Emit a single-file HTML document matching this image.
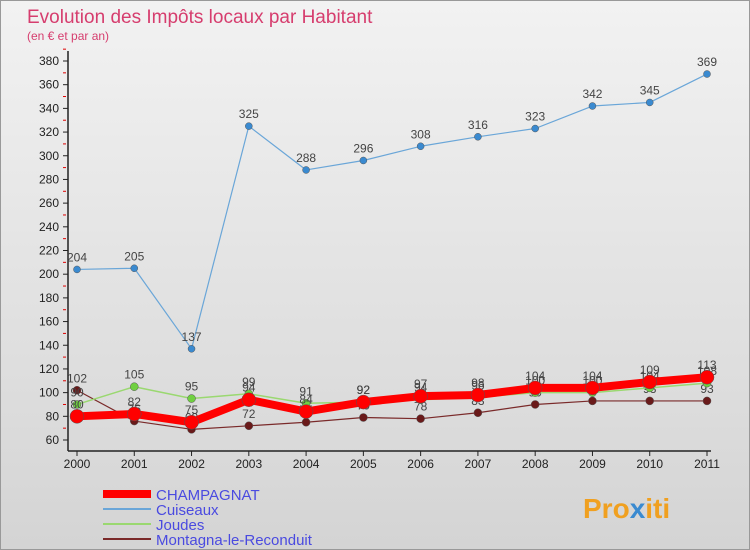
<!DOCTYPE html>
<html><head><meta charset="utf-8"><style>
body{margin:0}
#c{width:750px;height:550px;position:relative;font-family:"Liberation Sans",sans-serif;background:linear-gradient(#f2f2f2,#d4d4d4);border:1px solid #999;box-sizing:border-box;overflow:hidden}
text{font-family:"Liberation Sans",sans-serif}
</style></head><body>
<div id="c">
<svg id="s" width="750" height="550">
<text x="26" y="22" font-size="19" fill="#d63d6e">Evolution des Impôts locaux par Habitant</text>
<text x="26" y="39" font-size="12" fill="#d63d6e">(en € et par an)</text>
<g id="axes"></g><g id="series"></g><g id="legend"></g>
<text x="582" y="517" font-size="28" font-weight="bold" fill="#f0a020">Pro<tspan fill="#3a8ad0">x</tspan>iti</text>
</svg>
</div>
<script>
const years=["2000","2001","2002","2003","2004","2005","2006","2007","2008","2009","2010","2011"];
const yTicks=[60,80,100,120,140,160,180,200,220,240,260,280,300,320,340,360,380];
const champagnat=[80,82,75,94,84,92,97,98,104,104,109,113];
const cuiseaux=[204,205,137,325,288,296,308,316,323,342,345,369];
const joudes=[90,105,95,99,91,92,94,96,100,100,104,108];
const montagna=[102,76,69,72,75,79,78,83,90,93,93,93];
const NS="http://www.w3.org/2000/svg";
function X(i){return 76+i*(630/11);}
function Y(v){return 439-(v-60)*(379/320);}
function mk(t,a,p){const e=document.createElementNS(NS,t);for(const k in a)e.setAttribute(k,a[k]);p.appendChild(e);return e;}
const ax=document.getElementById('axes');
let l=mk('line',{x1:67,y1:50,x2:67,y2:450,stroke:'#222','stroke-width':1.5},ax);


l=mk('line',{x1:67,y1:450,x2:710,y2:450,stroke:'#222','stroke-width':1.5},ax);


yTicks.forEach(v=>{
 mk('line',{x1:62,y1:Y(v),x2:67,y2:Y(v),stroke:'#222'},ax);
 mk('line',{x1:62,y1:Y(v+10),x2:65,y2:Y(v+10),stroke:'#d00'},ax);
 const t=mk('text',{x:58,y:Y(v)+4,'font-size':12,'text-anchor':'end',fill:'#222'},ax);t.textContent=v;
 
 
});
years.forEach((y,i)=>{
 mk('line',{x1:X(i),y1:450,x2:X(i),y2:455,stroke:'#222'},ax);
 const t=mk('text',{x:X(i),y:467,'font-size':12,'text-anchor':'middle',fill:'#222'},ax);t.textContent=y;
 
 
});
const sg=document.getElementById('series');
function draw(name,data,color,w,r,dot){
 const g=mk('g',{},sg);
 
 
 mk('polyline',{points:data.map((v,i)=>X(i)+','+Y(v)).join(' '),fill:'none',stroke:color,'stroke-width':w,'stroke-linejoin':'round'},g);
 data.forEach((v,i)=>{
  const c=mk('circle',{cx:X(i),cy:Y(v),r:r,fill:dot,stroke:'#555','stroke-width':0.5},g);
  
  
  const t=mk('text',{x:X(i),y:Y(v)-8,'font-size':12,'text-anchor':'middle',fill:'#444'},g);t.textContent=v;
  
  
 });
}
draw('cuiseaux',cuiseaux,'#6aa6d8',1.2,3.5,'#3a8ad0');
draw('montagna',montagna,'#7a2a2a',1.2,4,'#6a1a1a');
draw('joudes',joudes,'#9ad870',1.5,4,'#70d040');
draw('champagnat',champagnat,'#f00',8,7,'#f00');
const lg=document.getElementById('legend');
[['CHAMPAGNAT','#f00',8],['Cuiseaux','#6aa6d8',2],['Joudes','#9ad870',2],['Montagna-le-Reconduit','#7a2a2a',2]].forEach((d,i)=>{
 const y=493+i*15;
 const g=mk('g',{},lg);
 
 
 mk('line',{x1:102,y1:y,x2:150,y2:y,stroke:d[1],'stroke-width':d[2]},g);
 const t=mk('text',{x:155,y:y+6,'font-size':15,fill:'#4a4ae0'},g);t.textContent=d[0];
});
</script>
</body></html>
